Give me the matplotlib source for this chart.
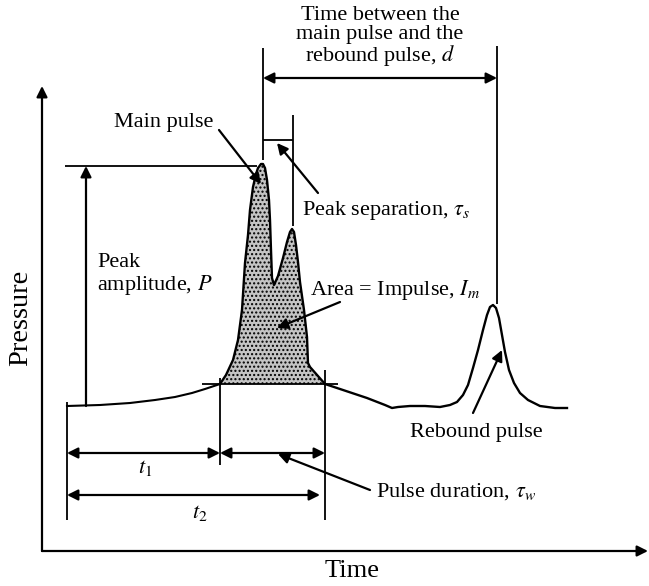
import matplotlib.pyplot as plt

plt.rcParams["font.family"] = ["Liberation Serif", "DejaVu Serif"]
plt.rcParams["mathtext.fontset"] = "stix"

# coordinates are in image pixels (x to the right, y downwards)
pulse_x = [220, 226, 233, 238, 242, 245, 248, 250, 253, 256, 258, 261, 263, 265, 267,
           269, 270, 271, 272, 274, 278, 283, 287, 290, 292, 294, 296, 298, 300, 304,
           307, 308, 310, 325]
pulse_y = [384, 375, 360, 340, 310, 263, 235, 210, 187, 174, 168, 164, 164, 168, 180,
           200, 220, 250, 278, 285, 276, 258, 242, 232, 229, 232, 245, 262, 282, 310,
           337, 363, 367, 384]

left_x = [67, 100, 130, 155, 175, 192, 205, 214, 220]
left_y = [406, 405, 403, 400, 397, 393, 389, 386, 384]

right_x = [325, 343, 367, 385, 392, 398, 410, 425, 440, 450, 457, 463, 468, 473, 478,
           483, 487, 490, 493, 496, 499, 502, 505, 509, 514, 520, 528, 540, 555, 567]
right_y = [384, 390, 398, 405, 408, 407, 406, 406, 407, 405, 402, 395, 385, 368, 350,
           330, 315, 307, 305, 308, 318, 335, 352, 370, 383, 393, 400, 406, 408, 408]

base_y = 384

fig = plt.figure(figsize=(6.49, 5.86), dpi=100)
ax = fig.add_axes([0, 0, 1, 1])
ax.set_xlim(0, 649)
ax.set_ylim(586, 0)
ax.axis("off")

K = "black"
fs = 16

# pulse
ax.fill_between(pulse_x, pulse_y, base_y, facecolor="#c4c4c4", edgecolor="none",
                hatch="....", linewidth=0)
ax.plot(pulse_x, pulse_y, color=K, lw=1.7)
ax.plot(left_x, left_y, color=K, lw=1.5)
ax.plot(right_x, right_y, color=K, lw=1.7)


def arrow(p0, p1, style="-|>"):
    ax.annotate("", xy=p1, xytext=p0,
                arrowprops=dict(arrowstyle=style, color=K, lw=1.6,
                                mutation_scale=16, shrinkA=0, shrinkB=0))


def line(xs, ys, lw=1.3):
    ax.plot(xs, ys, color=K, lw=lw, solid_capstyle="butt")


# axes
arrow((42, 551), (42, 86))
arrow((42, 551), (648, 551))
ax.text(21, 318, "Pressure", fontsize=20.5, rotation=90, ha="center", va="center")
ax.text(352, 571, "Time", fontsize=19, ha="center", va="center")

# peak amplitude
line([65, 257], [166, 166])
arrow((86, 406), (86, 166))
ax.text(97, 275, "Peak\namplitude, $P$", fontsize=fs, ha="left", va="center",
        linespacing=1.05)

# main pulse
ax.text(164, 123, "Main pulse", fontsize=fs, ha="center", va="center")
arrow((219, 130), (261, 184))

# time between pulses
line([263, 263], [48, 160])
line([497, 497], [46, 304])
arrow((263, 78), (497, 78), "<|-|>")
ax.text(380, 37, "Time between the\nmain pulse and the\nrebound pulse, $d$",
        fontsize=fs, ha="center", va="center", linespacing=0.98)

# peak separation
line([293, 293], [115, 226])
line([263, 293], [140, 140])
arrow((318, 193), (277, 143))
ax.text(302, 210, r"Peak separation, $\tau_s$", fontsize=fs, ha="left", va="center")

# area
arrow((340, 302), (277, 328))
ax.text(310, 290, "Area = Impulse, $I_m$", fontsize=fs, ha="left", va="center")

# rebound pulse
arrow((473, 413), (502, 350))
ax.text(476, 432, "Rebound pulse", fontsize=fs, ha="center", va="center")

# base line and time markers
line([202, 338], [base_y, base_y])
line([67, 67], [402, 520])
line([220, 220], [378, 465])
line([325, 325], [370, 520])
arrow((67, 453), (220, 453), "<|-|>")
arrow((220, 453), (325, 453), "<|-|>")
arrow((67, 495), (320, 495), "<|-|>")
ax.text(145, 468, "$t_1$", fontsize=fs, ha="center", va="center")
ax.text(200, 513, "$t_2$", fontsize=fs, ha="center", va="center")

# pulse duration
arrow((370, 490), (278, 454))
ax.text(376, 492, r"Pulse duration, $\tau_w$", fontsize=fs, ha="left", va="center")

fig.savefig("out.png", dpi=100)
